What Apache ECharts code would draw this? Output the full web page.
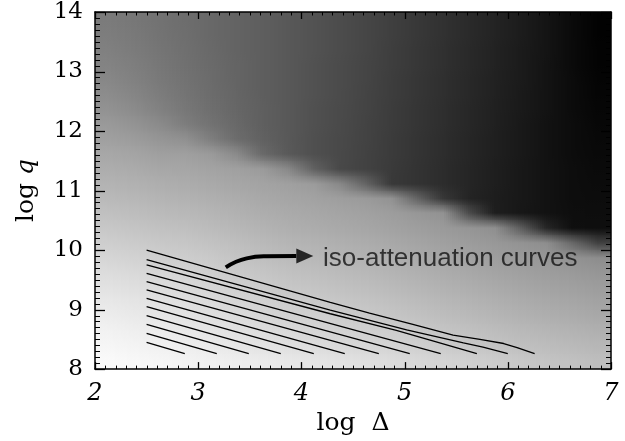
<!DOCTYPE html>
<html>
<head>
<meta charset="utf-8">
<script src="https://cdn.jsdelivr.net/npm/echarts@6/dist/echarts.min.js"></script>
<style>
html, body { margin: 0; padding: 0; background: #fff; }
#chart { width: 625px; height: 441px; }
</style>
</head>
<body>
<div id="chart"></div>
<script>
// cell centres of the shaded map (log Delta, log q)
var xCenters = [2.125, 2.375, 2.625, 2.875, 3.125, 3.375, 3.625, 3.875, 4.125, 4.375,
                4.625, 4.875, 5.125, 5.375, 5.625, 5.875, 6.125, 6.375, 6.625, 6.875];
// rows listed from the top of the plot down
var yCenters = [13.875, 13.625, 13.375, 13.125, 12.875, 12.625, 12.375, 12.125,
                11.875, 11.625, 11.375, 11.125, 10.875, 10.625, 10.375, 10.125,
                9.875, 9.625, 9.375, 9.125, 8.875, 8.625, 8.375, 8.125];
// grey level of each cell, 0 = black, 255 = white
var shadeRows = [
    [123,119,114,109,104, 99, 94, 88, 82, 76, 70, 63, 56, 49, 42, 35, 28, 20, 10,  2],
    [125,121,115,110,104, 99, 94, 88, 82, 76, 70, 63, 56, 49, 42, 35, 28, 20, 10,  2],
    [128,123,117,111,105, 99, 94, 88, 82, 76, 70, 62, 55, 48, 41, 34, 27, 20, 10,  3],
    [131,126,119,112,106,100, 94, 88, 81, 75, 69, 62, 55, 48, 41, 34, 27, 19, 10,  3],
    [135,129,121,114,107,100, 94, 88, 81, 75, 69, 61, 54, 47, 40, 33, 27, 19, 11,  4],
    [140,133,124,116,108,101, 94, 88, 81, 75, 68, 61, 54, 47, 40, 33, 26, 19, 11,  5],
    [146,139,129,119,110,102, 95, 88, 80, 74, 68, 60, 53, 46, 39, 32, 26, 19, 11,  6],
    [153,147,138,125,114,104, 95, 88, 80, 74, 67, 60, 53, 46, 39, 32, 25, 18, 12,  7],
    [160,156,149,144,126,108, 97, 88, 79, 73, 67, 59, 52, 45, 38, 31, 25, 18, 12,  8],
    [167,164,159,159,154,138,105, 89, 79, 73, 66, 59, 52, 45, 38, 31, 25, 18, 12,  9],
    [173,171,167,166,163,160,155,136, 97, 72, 66, 58, 51, 44, 37, 30, 24, 18, 13, 10],
    [179,177,174,172,169,166,163,160,155,136,100, 57, 51, 44, 37, 30, 24, 18, 13, 11],
    [185,183,180,178,175,172,168,165,162,158,154,146,100, 55, 36, 29, 24, 18, 13, 12],
    [192,189,186,184,181,177,173,170,167,164,161,157,151,146, 75, 30, 23, 18, 14, 13],
    [199,196,193,191,187,183,179,175,172,169,166,162,158,154,149,143, 94, 38, 15, 14],
    [206,203,200,198,194,190,185,181,178,175,172,168,164,160,156,152,147,142,105, 65],
    [213,210,207,205,201,196,191,187,184,181,178,174,170,166,162,158,154,151,146,141],
    [220,217,214,211,207,202,197,193,190,187,184,180,176,172,168,164,160,157,154,150],
    [226,223,220,217,213,208,203,199,196,193,190,186,182,178,174,170,166,163,160,157],
    [232,229,226,223,219,214,209,205,202,199,196,192,188,184,180,176,172,169,166,163],
    [237,234,231,228,224,220,215,211,208,205,202,198,194,190,186,182,178,175,172,169],
    [242,239,236,233,230,225,221,217,214,211,208,205,201,197,193,189,185,182,179,176],
    [246,244,241,238,235,231,227,224,221,218,215,212,208,204,200,196,192,189,186,183],
    [250,248,246,243,241,238,235,232,229,226,223,220,216,212,208,204,200,196,193,190]
];
// iso-attenuation curves, bottom one first
var isoCurves = [
    [[2.5, 8.45], [2.87, 8.26]],
    [[2.5, 8.60], [3.18, 8.26]],
    [[2.5, 8.75], [3.49, 8.26]],
    [[2.5, 8.90], [3.80, 8.26]],
    [[2.5, 9.05], [4.12, 8.26]],
    [[2.5, 9.19], [4.42, 8.26]],
    [[2.5, 9.33], [4.75, 8.26]],
    [[2.5, 9.47], [5.05, 8.26]],
    [[2.5, 9.61], [5.35, 8.26]],
    [[2.5, 9.75], [4.28, 8.93], [4.92, 8.65], [5.34, 8.44], [5.70, 8.26]],
    [[2.5, 9.84], [4.28, 8.99], [5.02, 8.66], [5.57, 8.44], [5.76, 8.37], [6.00, 8.26]],
    [[2.5, 10.0], [4.28, 9.12], [4.66, 8.94], [5.08, 8.75], [5.47, 8.57], [5.73, 8.50],
     [5.96, 8.43], [6.09, 8.36], [6.26, 8.26]]
];
var arrowPath = [[3.267, 9.71], [3.47, 9.86], [3.66, 9.895], [3.95, 9.90]];
var arrowTip = [4.033, 9.90];
var noteAt = [4.21, 9.86];
var noteText = 'iso-attenuation curves';

// axis ranges
var xMin = 2, xMax = 7, yMin = 8, yMax = 14;

var nC = xCenters.length, nR = yCenters.length;
var shadeData = [];
for (var r = 0; r < nR; r++) {
    for (var c = 0; c < nC; c++) {
        shadeData.push([xCenters[c], yCenters[r], shadeRows[r][c]]);
    }
}
var dx = xCenters[1] - xCenters[0];
var dy = yCenters[0] - yCenters[1];
var halfX = dx / 2, halfY = dy / 2;

// smooth (gouraud-like) look between cell centres when painting
function shadeAt(x, y) {
    var u = Math.min(Math.max((x - xCenters[0]) / dx, 0), nC - 1);
    var v = Math.min(Math.max((yCenters[0] - y) / dy, 0), nR - 1);
    var c0 = Math.min(Math.floor(u), nC - 2), r0 = Math.min(Math.floor(v), nR - 2);
    var fu = u - c0, fv = v - r0;
    var a = shadeRows[r0][c0], b = shadeRows[r0][c0 + 1];
    var e = shadeRows[r0 + 1][c0], d = shadeRows[r0 + 1][c0 + 1];
    return (a * (1 - fu) + b * fu) * (1 - fv) + (e * (1 - fu) + d * fu) * fv;
}
function grey(g) {
    g = Math.round(g);
    return 'rgb(' + g + ',' + g + ',' + g + ')';
}

// inward tick marks on all four sides, every 0.1 with majors on integers
var tickData = [];
for (var i = 0; i <= (xMax - xMin) * 10; i++) {
    tickData.push([xMin + i / 10, yMin, i % 10 === 0 ? 1 : 0, 0]);
}
for (var j = 0; j <= (yMax - yMin) * 10; j++) {
    tickData.push([xMin, yMin + j / 10, j % 10 === 0 ? 1 : 0, 1]);
}

var chart = echarts.init(document.getElementById('chart'));

function xAxisOpt(pos, showLabel) {
    return {
        type: 'value', position: pos, min: xMin, max: xMax, interval: 1,
        axisLine: { show: true, onZero: false, lineStyle: { color: '#000', width: 1.5 } },
        axisTick: { show: false },
        splitLine: { show: false },
        axisLabel: {
            show: showLabel, margin: 13, color: '#000',
            fontFamily: 'DejaVu Serif', fontStyle: 'italic', fontSize: 24
        }
    };
}
function yAxisOpt(pos, showLabel) {
    return {
        type: 'value', position: pos, min: yMin, max: yMax, interval: 1,
        axisLine: { show: true, onZero: false, lineStyle: { color: '#000', width: 1.5 } },
        axisTick: { show: false },
        splitLine: { show: false },
        axisLabel: {
            show: showLabel, margin: 12, color: '#000',
            fontFamily: 'DejaVu Serif', fontSize: 23
        }
    };
}

var xBottom = xAxisOpt('bottom', true);
xBottom.name = 'log  \u0394';
xBottom.nameLocation = 'middle';
xBottom.nameGap = 41;
xBottom.nameTextStyle = { fontFamily: 'DejaVu Serif', fontSize: 25, color: '#000' };

var yLeft = yAxisOpt('left', true);
yLeft.name = '{a|log }{b|q}';
yLeft.nameLocation = 'middle';
yLeft.nameGap = 56;
yLeft.nameTextStyle = {
    color: '#000',
    rich: {
        a: { fontFamily: 'DejaVu Serif', fontSize: 25, color: '#000' },
        b: { fontFamily: 'DejaVu Serif', fontSize: 25, fontStyle: 'italic', color: '#000' }
    }
};

var series = [{
    type: 'custom',
    data: shadeData,
    encode: { x: 0, y: 1 },
    clip: true,
    silent: true,
    zlevel: -1,
    renderItem: function (params, api) {
        var cx = api.value(0), cy = api.value(1);
        var kids = [];
        var yTop = cy + halfY, yBot = cy - halfY;
        var a = api.coord([cx - halfX, yTop]), b = api.coord([cx + halfX, yBot]);
        var left = Math.round(a[0]), right = Math.round(b[0]);
        var top = Math.round(a[1]), bottom = Math.round(b[1]);
        // 2px wide pixel-aligned strips, each with a vertical gradient
        for (var px = left; px < right; px += 2) {
            var w = Math.min(2, right - px);
            var xm = cx - halfX + (px + w / 2 - a[0]) / (b[0] - a[0]) * dx;
            kids.push({
                type: 'rect',
                shape: { x: px, y: top, width: w, height: bottom - top + 1 },
                style: {
                    fill: new echarts.graphic.LinearGradient(0, 0, 0, 1, [
                        { offset: 0, color: grey(shadeAt(xm, yTop)) },
                        { offset: 0.5, color: grey(shadeAt(xm, cy)) },
                        { offset: 1, color: grey(shadeAt(xm, yBot)) }
                    ])
                }
            });
        }
        return { type: 'group', children: kids };
    }
}];

isoCurves.forEach(function (pts) {
    series.push({
        type: 'line', data: pts, symbol: 'none', silent: true,
        lineStyle: { color: '#000', width: 1.3 }
    });
});

series.push({
    type: 'line', data: arrowPath, symbol: 'none', smooth: true, silent: true,
    lineStyle: { color: '#000', width: 4 }
});
series.push({
    type: 'scatter', data: [arrowTip], symbol: 'triangle', symbolSize: [15, 17],
    symbolRotate: -90, silent: true,
    itemStyle: { color: '#000' }
});
series.push({
    type: 'scatter', data: [noteAt], symbolSize: 0, silent: true,
    label: {
        show: true, position: 'right', distance: 0, formatter: noteText,
        fontFamily: 'Liberation Sans', fontSize: 26, color: '#111'
    }
});

// tick marks placed through the axis scales
series.push({
    type: 'custom',
    data: tickData,
    encode: { x: 0, y: 1 },
    clip: false,
    silent: true,
    z: 20,
    renderItem: function (params, api) {
        var v0 = api.value(0), v1 = api.value(1);
        var major = api.value(2) === 1, onY = api.value(3) === 1;
        var style = { stroke: '#000', lineWidth: major ? 1.3 : 1 };
        var p, q, len;
        if (!onY) {
            len = major ? 7 : 3.5;
            p = api.coord([v0, yMin]);
            q = api.coord([v0, yMax]);
            var px = Math.round(p[0]) + 0.5;
            return { type: 'group', children: [
                { type: 'line', shape: { x1: px, y1: p[1], x2: px, y2: p[1] - len }, style: style },
                { type: 'line', shape: { x1: px, y1: q[1], x2: px, y2: q[1] + len }, style: style }
            ] };
        }
        len = major ? 10 : 5;
        p = api.coord([xMin, v1]);
        q = api.coord([xMax, v1]);
        var py = Math.round(p[1]) + 0.5;
        return { type: 'group', children: [
            { type: 'line', shape: { x1: p[0], y1: py, x2: p[0] + len, y2: py }, style: style },
            { type: 'line', shape: { x1: q[0], y1: py, x2: q[0] - len, y2: py }, style: style }
        ] };
    }
});

chart.setOption({
    animation: false,
    grid: { left: 95, right: 14, top: 12, bottom: 65 },
    xAxis: [xBottom, xAxisOpt('top', false)],
    yAxis: [yLeft, yAxisOpt('right', false)],
    series: series
});
</script>
</body>
</html>
